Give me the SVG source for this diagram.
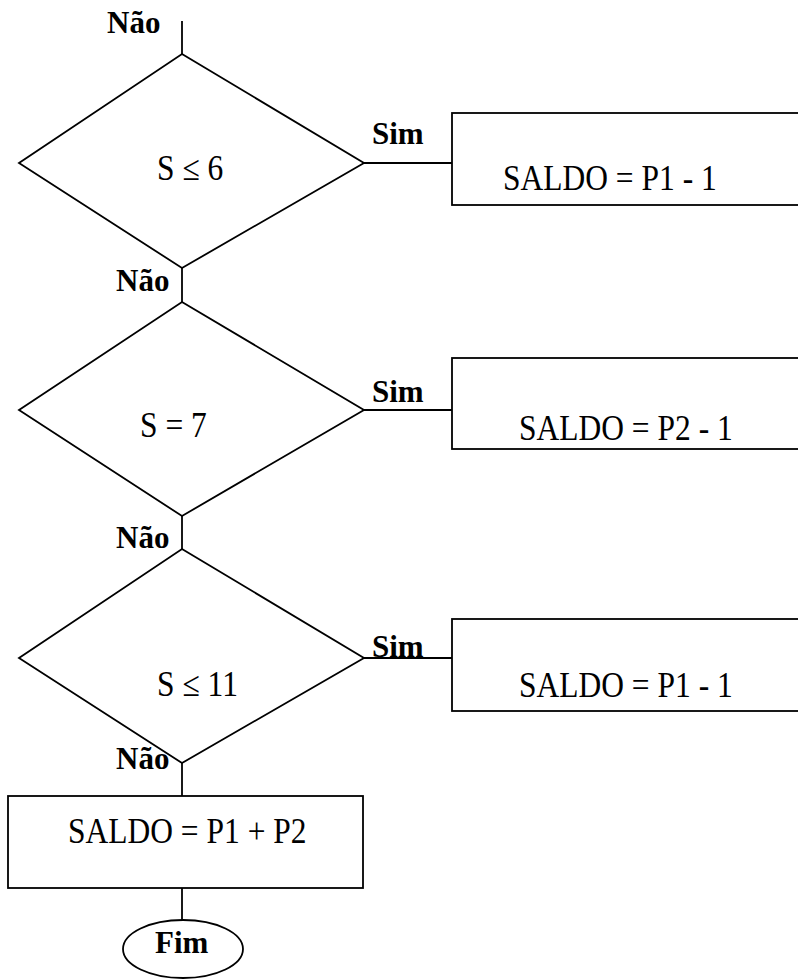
<svg xmlns="http://www.w3.org/2000/svg" width="798" height="980" viewBox="0 0 798 980">
  <style>
    .shape { fill: #ffffff; stroke: #000000; stroke-width: 1.8; }
    .link { fill: none; stroke: #000000; stroke-width: 1.8; }
    .txt { font-family: "Liberation Serif", "Times New Roman", serif; font-size: 31.5px; fill: #000000; }
    .lbl { font-family: "Liberation Serif", "Times New Roman", serif; font-size: 31px; font-weight: bold; fill: #000000; }
  </style>
  <rect width="798" height="980" fill="#ffffff"/>

  <!-- connectors -->
  <g id="connectors">
    <line class="link" x1="182" y1="21" x2="182" y2="54"/>
    <line class="link" x1="182" y1="268" x2="182" y2="302"/>
    <line class="link" x1="182" y1="516" x2="182" y2="549"/>
    <line class="link" x1="182" y1="763" x2="182" y2="796"/>
    <line class="link" x1="182" y1="888" x2="182" y2="920"/>
    <line class="link" x1="364" y1="163" x2="452" y2="163"/>
    <line class="link" x1="364" y1="410" x2="452" y2="410"/>
    <line class="link" x1="364" y1="658" x2="452" y2="658"/>
  </g>

  <!-- branch labels -->
  <g id="labels">
    <text class="lbl" x="107" y="33">Não</text>
    <text class="lbl" x="372" y="144">Sim</text>
    <text class="lbl" x="116" y="291">Não</text>
    <text class="lbl" x="372" y="402">Sim</text>
    <text class="lbl" x="116" y="548">Não</text>
    <text class="lbl" x="372" y="657">Sim</text>
    <text class="lbl" x="116" y="769">Não</text>
  </g>

  <!-- decision 1 -->
  <g id="decision1">
    <polygon class="shape" points="182,54 364,163 182,268 19,163"/>
    <text class="txt" transform="translate(157,180) scale(1,1.12)">S ≤ 6</text>
  </g>
  <g id="action1">
    <rect class="shape" x="452" y="113" width="360" height="92"/>
    <text class="txt" transform="translate(503,190) scale(1,1.12)">SALDO = P1 - 1</text>
  </g>

  <!-- decision 2 -->
  <g id="decision2">
    <polygon class="shape" points="182,302 364,410 182,516 19,410"/>
    <text class="txt" transform="translate(140,437) scale(1,1.12)">S = 7</text>
  </g>
  <g id="action2">
    <rect class="shape" x="452" y="358" width="360" height="91"/>
    <text class="txt" transform="translate(519,440) scale(1,1.12)">SALDO = P2 - 1</text>
  </g>

  <!-- decision 3 -->
  <g id="decision3">
    <polygon class="shape" points="182,549 364,658 182,763 19,658"/>
    <text class="txt" transform="translate(157,696) scale(1,1.12)">S ≤ 11</text>
  </g>
  <g id="action3">
    <rect class="shape" x="452" y="619" width="360" height="92"/>
    <text class="txt" transform="translate(519,697) scale(1,1.12)">SALDO = P1 - 1</text>
  </g>

  <!-- default action -->
  <g id="action4">
    <rect class="shape" x="8" y="796" width="355" height="92"/>
    <text class="txt" transform="translate(68,843) scale(1,1.12)">SALDO = P1 + P2</text>
  </g>

  <!-- terminator -->
  <g id="end">
    <ellipse class="shape" cx="183" cy="949" rx="60" ry="29"/>
    <text class="lbl" x="155" y="953">Fim</text>
  </g>
</svg>
